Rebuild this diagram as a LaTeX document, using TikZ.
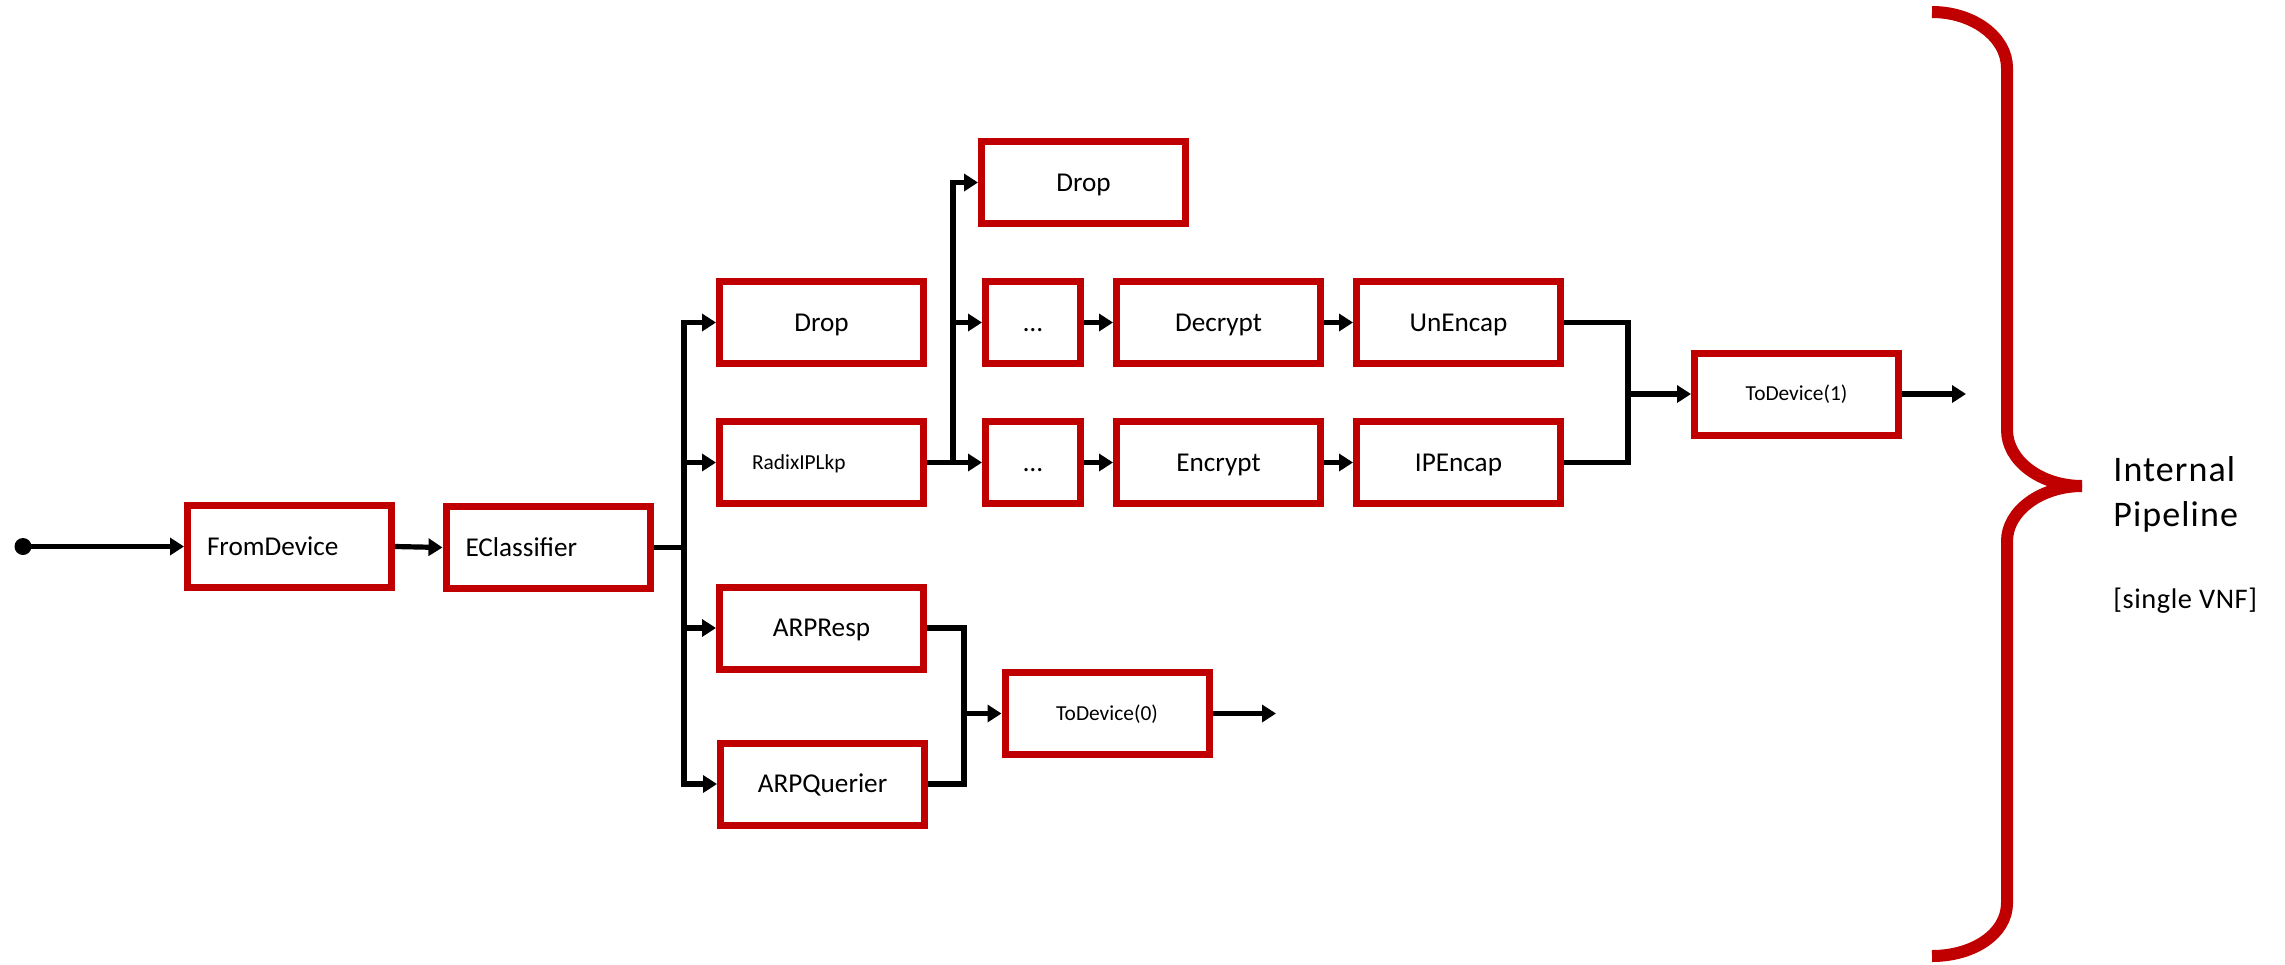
\documentclass[tikz,border=0pt]{standalone}
\usepackage{fontspec}
\setmainfont{Carlito}
\usetikzlibrary{arrows.meta}
\definecolor{boxred}{RGB}{192,0,0}
\begin{document}
\begin{tikzpicture}[x=0.5pt,y=-0.5pt,
  blk/.style={draw=boxred, line width=3.5pt, minimum width=102pt, minimum height=41pt,
    inner sep=0pt, font=\fontsize{13.6}{15}\selectfont, text height=8.6pt, text depth=0pt},
  smalltxt/.style={font=\fontsize{10.7}{12}\selectfont, text height=6.8pt},
  leftbox/.style={align=left, text width=#1},
  conn/.style={line width=2.6pt, line join=miter},
  arr/.style={conn, -{Triangle[length=7pt,width=8.5pt]}},
  busline/.style={conn, line cap=rect},
  side/.style={anchor=base west, inner sep=0pt}
]
\useasboundingbox (0,0) rectangle (2285,964);

% nodes
\node[circle, fill=black, minimum size=8.5pt, inner sep=0pt] (start) at (23,546.5) {};
\node[blk, leftbox=82.5pt, inner xsep=9.75pt] (fromdev) at (289.5,546.5) {FromDevice};
\node[blk, leftbox=82.5pt, inner xsep=9.75pt] (ecl) at (548,547.5) {EClassifier};
\node[blk] (drop1) at (821.5,322.5) {Drop};
\node[blk, smalltxt, leftbox=69.5pt, inner xsep=16.25pt] (radix) at (821.5,462.5) {RadixIPLkp};
\node[blk] (arpr) at (821.5,628) {ARPResp};
\node[blk] (arpq) at (822.5,784) {ARPQuerier};
\node[blk] (drop2) at (1083.5,182.5) {Drop};
\node[blk, minimum width=47.5pt] (dots1) at (1033,322.5) {…};
\node[blk, minimum width=47.5pt] (dots2) at (1033,462.5) {…};
\node[blk] (decr) at (1218.5,322.5) {Decrypt};
\node[blk] (encr) at (1218.5,462.5) {Encrypt};
\node[blk] (unenc) at (1458.5,322.5) {UnEncap};
\node[blk] (ipenc) at (1458.5,462.5) {IPEncap};
\node[blk, smalltxt] (td1) at (1796.5,394) {ToDevice(1)};
\node[blk, smalltxt] (td0) at (1107,713.5) {ToDevice(0)};

\coordinate (b1) at (684,0);
\coordinate (b2) at (953,0);
\coordinate (b3) at (964,0);
\coordinate (b4) at (1628,0);
\coordinate (out0) at (1276,713.5);
\coordinate (out1) at (1966,394);

% connectors
\draw[arr] (start.center) -- (fromdev.west);
\draw[arr] (fromdev.east) -- (ecl.west);

\draw[conn] (ecl.east) -- (ecl.east -| b1);
\draw[busline] (drop1.west -| b1) -- (arpq.west -| b1);
\foreach \n in {drop1,radix,arpr,arpq} \draw[arr] (\n.west -| b1) -- (\n.west);

\draw[conn] (radix.east) -- (radix.east -| b2);
\draw[busline] (drop2.west -| b2) -- (dots2.west -| b2);
\foreach \n in {drop2,dots1,dots2} \draw[arr] (\n.west -| b2) -- (\n.west);

\draw[arr] (dots1.east) -- (decr.west);
\draw[arr] (decr.east) -- (unenc.west);
\draw[arr] (dots2.east) -- (encr.west);
\draw[arr] (encr.east) -- (ipenc.west);

\draw[conn] (arpr.east) -| (b3 |- arpq.east) -- (arpq.east);
\draw[arr] (td0.west -| b3) -- (td0.west);
\draw[arr] (td0.east) -- (out0);

\draw[conn] (unenc.east) -| (b4 |- ipenc.east) -- (ipenc.east);
\draw[arr] (td1.west -| b4) -- (td1.west);
\draw[arr] (td1.east) -- (out1);

% brace
\draw[draw=boxred, line width=6pt] (1932,12) .. controls (1973,12) and (2007,37) .. (2007,68)
  -- (2007,430) .. controls (2007,461) and (2041,486) .. (2082,486);
\draw[draw=boxred, line width=6pt] (2082,486) .. controls (2041,486) and (2007,511) .. (2007,541)
  -- (2007,903) .. controls (2007,934) and (1973,956) .. (1932,956);

% side text
\node[side, font=\fontsize{18}{22}\selectfont\addfontfeatures{LetterSpace=3}] (lint) at (2113,481) {Internal};
\node[side, font=\fontsize{18}{22}\selectfont\addfontfeatures{LetterSpace=3}] (lpipe) at (2113,526) {Pipeline};
\node[side, font=\fontsize{14.2}{17}\selectfont\addfontfeatures{LetterSpace=2}] (lvnf) at (2113,608) {[single VNF]};
\end{tikzpicture}
\end{document}
